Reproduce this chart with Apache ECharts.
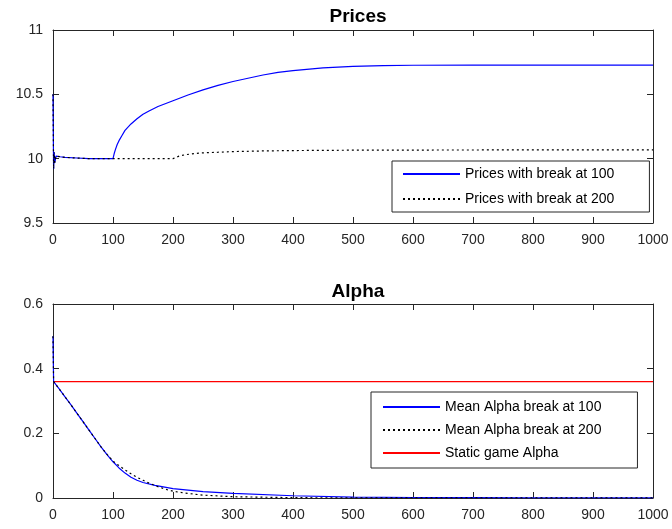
<!DOCTYPE html>
<html>
<head>
<meta charset="utf-8">
<script src="https://cdn.jsdelivr.net/npm/echarts@6/dist/echarts.min.js"></script>
<style>
  html, body { margin: 0; padding: 0; background: #fff; }
  #main { width: 672px; height: 529px; }
</style>
</head>
<body>
<div id="main"></div>
<script>
// prices, break at 100
const tPrice100 = [0, 1, 2, 3, 5, 8, 12, 20, 40, 60, 80, 100, 102, 104, 107, 110, 115, 120, 130, 140, 150, 160, 175, 200, 225, 250, 275, 300, 325, 350, 375, 400, 450, 500, 550, 600, 700, 800, 900, 1000];
const price100 = [10.5, 9.92, 10.05, 9.97, 10.02, 10.01, 10.015, 10.01, 10.005, 10.0, 10.0, 10.0, 10.04, 10.07, 10.11, 10.14, 10.18, 10.22, 10.27, 10.31, 10.345, 10.37, 10.405, 10.45, 10.495, 10.535, 10.57, 10.6, 10.625, 10.65, 10.67, 10.685, 10.705, 10.717, 10.723, 10.726, 10.727, 10.727, 10.727, 10.727];
// prices, break at 200
const tPrice200 = [0, 1, 2, 3, 5, 8, 12, 20, 40, 60, 80, 100, 150, 200, 205, 210, 220, 235, 250, 275, 300, 350, 400, 500, 600, 800, 1000];
const price200 = [10.5, 9.92, 10.05, 9.97, 10.02, 10.01, 10.015, 10.01, 10.005, 10.0, 10.0, 10.0, 10.0, 10.0, 10.01, 10.02, 10.03, 10.04, 10.045, 10.05, 10.055, 10.06, 10.063, 10.066, 10.067, 10.068, 10.068];
// mean alpha
const tAlpha100 = [0, 1, 10, 20, 30, 40, 50, 60, 70, 80, 90, 100, 110, 120, 130, 140, 150, 170, 200, 250, 300, 400, 500, 600, 700, 800, 1000];
const alpha100 = [0.5, 0.36, 0.338, 0.313, 0.288, 0.262, 0.236, 0.21, 0.184, 0.158, 0.134, 0.112, 0.093, 0.077, 0.064, 0.055, 0.048, 0.039, 0.029, 0.02, 0.014, 0.007, 0.003, 0.0015, 0.001, 0.0005, 0.0002];
const tAlpha200 = [0, 1, 10, 20, 30, 40, 50, 60, 70, 80, 90, 100, 110, 120, 130, 140, 150, 160, 175, 190, 200, 220, 250, 300, 400, 500, 1000];
const alpha200 = [0.5, 0.36, 0.338, 0.313, 0.288, 0.262, 0.236, 0.21, 0.184, 0.158, 0.135, 0.114, 0.1, 0.087, 0.075, 0.064, 0.055, 0.046, 0.035, 0.026, 0.021, 0.015, 0.009, 0.004, 0.001, 0.0005, 0.0002];
const tStatic = [0, 1000];
const staticAlpha = [0.36, 0.36];

const names = ['Prices with break at 100', 'Prices with break at 200',
  'Mean Alpha break at 100', 'Mean Alpha break at 200', 'Static game Alpha'];

const zip = (xs, ys) => xs.map((x, i) => [x, ys[i]]);
const axisCol = '#262626';
const font = 'Liberation Sans, Arial, sans-serif';
const dots = [2, 3];

function xAx(grid, pos) {
  return {
    type: 'value', gridIndex: grid, position: pos, min: 0, max: 1000, interval: 100,
    axisLine: { onZero: false, lineStyle: { color: axisCol, width: 1 } },
    axisTick: { inside: true, length: 6, lineStyle: { color: axisCol } },
    axisLabel: { show: pos === 'bottom', color: axisCol, fontSize: 14, fontFamily: font, margin: 10,
      formatter: v => String(v) },
    splitLine: { show: false }
  };
}
function yAx(grid, pos, min, max, step) {
  return {
    type: 'value', gridIndex: grid, position: pos, min: min, max: max, interval: step,
    axisLine: { show: true, onZero: false, lineStyle: { color: axisCol, width: 1 } },
    axisTick: { show: true, inside: true, length: 6, lineStyle: { color: axisCol } },
    axisLabel: { show: pos === 'left', color: axisCol, fontSize: 14, fontFamily: font, margin: 10 },
    splitLine: { show: false }
  };
}
function line(name, data, xi, yi, color, type, width) {
  return {
    name: name, type: 'line', data: data, xAxisIndex: xi, yAxisIndex: yi,
    symbol: 'none', showSymbol: false, animation: false,
    lineStyle: { color: color, type: type, width: width },
    itemStyle: { color: color }
  };
}
const legendBase = {
  orient: 'vertical', itemWidth: 57, itemHeight: 14,
  itemStyle: { opacity: 0 },
  borderColor: axisCol, borderWidth: 1, backgroundColor: '#fff',
  textStyle: { color: '#000', fontSize: 14, fontFamily: font }
};

const chart = echarts.init(document.getElementById('main'));
chart.setOption({
  backgroundColor: '#fff',
  animation: false,
  title: [
    { text: 'Prices', left: 353, top: 2, textAlign: 'center',
      textStyle: { fontSize: 19, fontWeight: 'bold', color: '#000', fontFamily: font } },
    { text: 'Alpha', left: 353, top: 277, textAlign: 'center',
      textStyle: { fontSize: 19, fontWeight: 'bold', color: '#000', fontFamily: font } }
  ],
  grid: [
    { left: 53, right: 19, top: 30, height: 193 },
    { left: 53, right: 19, top: 304, height: 194 }
  ],
  xAxis: [xAx(0, 'bottom'), xAx(0, 'top'), xAx(1, 'bottom'), xAx(1, 'top')],
  yAxis: [yAx(0, 'left', 9.5, 11, 0.5), yAx(0, 'right', 9.5, 11, 0.5),
          yAx(1, 'left', 0, 0.6, 0.2), yAx(1, 'right', 0, 0.6, 0.2)],
  legend: [
    Object.assign({}, legendBase, { data: names.slice(0, 2), left: 392, top: 161,
      itemGap: 11, padding: [6, 35, 6, 10] }),
    Object.assign({}, legendBase, { data: names.slice(2), left: 371, top: 392,
      itemGap: 9, padding: [8, 36, 8, 11] })
  ],
  series: [
    line(names[0], zip(tPrice100, price100), 0, 0, '#0000ff', 'solid', 1.2),
    line(names[1], zip(tPrice200, price200), 0, 0, '#000000', dots, 1.2),
    line(names[4], zip(tStatic, staticAlpha), 2, 2, '#ff0000', 'solid', 1.2),
    line(names[2], zip(tAlpha100, alpha100), 2, 2, '#0000ff', 'solid', 1.2),
    line(names[3], zip(tAlpha200, alpha200), 2, 2, '#000000', dots, 1.2)
  ]
});
</script>
</body>
</html>
